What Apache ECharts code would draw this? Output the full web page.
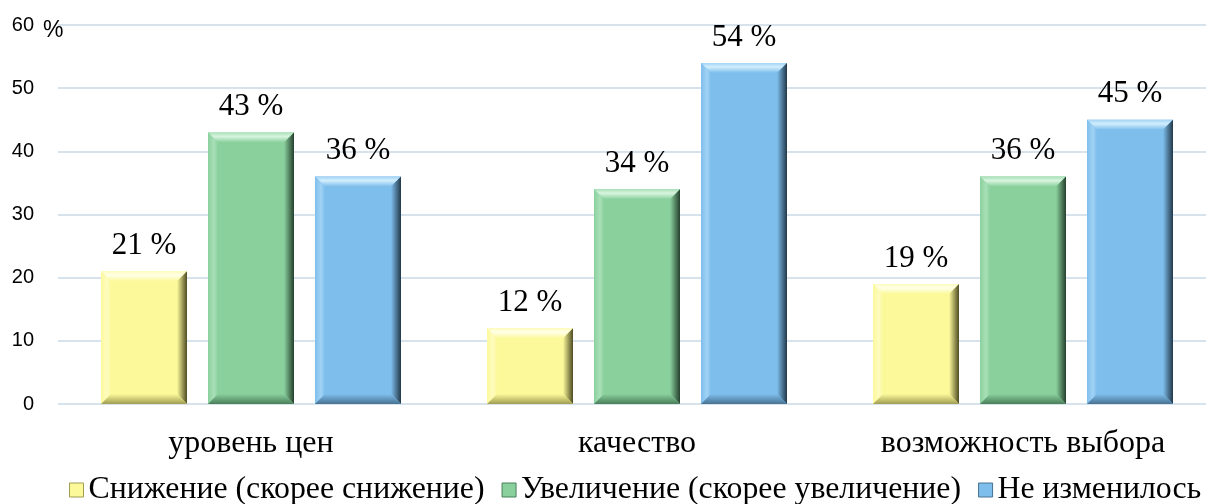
<!DOCTYPE html>
<html><head><meta charset="utf-8">
<script src="https://cdn.jsdelivr.net/npm/echarts@6/dist/echarts.min.js"></script>
<style>html,body{margin:0;padding:0;background:#fff}#c{width:1206px;height:504px}</style>
</head><body><div id="c"></div>
<script>
const categories = ['уровень цен', 'качество', 'возможность выбора'];
const seriesNames = ['Снижение (скорее снижение)', 'Увеличение (скорее увеличение)', 'Не изменилось'];
const decrease = [21, 12, 19];
const increase = [43, 34, 36];
const unchanged = [36, 54, 45];
const yTicks = [0, 10, 20, 30, 40, 50, 60];
const unitLabel = '%';

const palette = [
  {face: '#FCF99B', light: '#FFFFE8', side: '#FEFCC0', dark: '#4E4C22', bottom: '#A09D52'},
  {face: '#8AD09D', light: '#D8F5DF', side: '#A9E0B8', dark: '#25402D', bottom: '#4A7E5A'},
  {face: '#7EBEEC', light: '#D2EEFD', side: '#A2D3F5', dark: '#223849', bottom: '#487292'}
];
const allData = [decrease, increase, unchanged];
const serif = '"Liberation Serif", "Times New Roman", serif';
const sans = '"Liberation Sans", Arial, sans-serif';

function makeRender(si) {
  return function (params, api) {
    const xi = api.value(0), v = api.value(1);
    const band = api.size([1, 0])[0];
    const barW = band * 86 / 386, gap = band * 21 / 386;
    const c0 = api.coord([xi, 0]);
    const c1 = api.coord([xi, v]);
    const cx = c0[0] + (si - 1) * (barW + gap);
    const x0 = cx - barW / 2, x1 = cx + barW / 2, yb = c0[1], yt = c1[1];
    const b = 10;
    const p = palette[si];
    const G = echarts.graphic.LinearGradient;
    return {
      type: 'group',
      children: [
        {type: 'rect', shape: {x: x0, y: yt, width: barW, height: yb - yt}, style: {fill: p.face}},
        {type: 'polygon', shape: {points: [[x0, yt], [x1, yt], [x1 - b, yt + b], [x0 + b, yt + b]]},
          style: {fill: new G(0, 0, 0, 1, [{offset: 0, color: p.side}, {offset: 0.4, color: p.light}, {offset: 1, color: p.face}])}},
        {type: 'polygon', shape: {points: [[x0, yt], [x0 + b, yt + b], [x0 + b, yb - b], [x0, yb]]},
          style: {fill: new G(0, 0, 1, 0, [{offset: 0, color: p.face}, {offset: 0.6, color: p.side}, {offset: 1, color: p.face}])}},
        {type: 'polygon', shape: {points: [[x1, yt], [x1, yb], [x1 - b, yb - b], [x1 - b, yt + b]]},
          style: {fill: new G(0, 0, 1, 0, [{offset: 0, color: p.face}, {offset: 1, color: p.dark}])}},
        {type: 'polygon', shape: {points: [[x0, yb], [x1, yb], [x1 - b, yb - b], [x0 + b, yb - b]]},
          style: {fill: new G(0, 0, 0, 1, [{offset: 0, color: p.face}, {offset: 1, color: p.bottom}])}},
        {type: 'text', style: {x: cx, y: yt - 10, text: v + ' %', fill: '#000',
          font: '31px ' + serif, textAlign: 'center', textVerticalAlign: 'bottom'}}
      ]
    };
  };
}

const yMax = yTicks[yTicks.length - 1];
const chart = echarts.init(document.getElementById('c'));
chart.setOption({
  animation: false,
  grid: {left: 58, width: 1158, top: 25, bottom: 100, containLabel: false, outerBoundsMode: 'none'},
  legend: {
    data: seriesNames.map((n, i) => ({name: n, itemStyle: {color: palette[i].face, borderColor: palette[i].bottom, borderWidth: 1}})),
    left: 64, top: 469, width: 1142, itemWidth: 14, itemHeight: 14, itemGap: 17,
    icon: 'rect',
    textStyle: {fontFamily: serif, fontSize: 31.8, color: '#000'}
  },
  xAxis: {
    type: 'category', data: categories,
    axisLine: {show: false}, axisTick: {show: false},
    axisLabel: {fontFamily: serif, fontSize: 32, color: '#000', margin: 24}
  },
  yAxis: [{
    type: 'value', min: yTicks[0], max: yMax, interval: 10,
    axisLine: {show: false}, axisTick: {show: false},
    splitLine: {lineStyle: {color: '#D6E2EC', width: 2}},
    axisLabel: {fontFamily: sans, fontSize: 20, color: '#000', margin: 24}
  }, {
    type: 'value', position: 'left', min: yTicks[0], max: yMax, interval: 10,
    axisLine: {show: false}, axisTick: {show: false}, splitLine: {show: false},
    axisLabel: {fontFamily: sans, fontSize: 23, color: '#000', margin: 15, align: 'left', verticalAlign: 'top', lineHeight: 12,
      formatter: v => v === yMax ? unitLabel : ''}
  }],
  series: allData.map((d, i) => ({
    type: 'custom', name: seriesNames[i],
    itemStyle: {color: palette[i].face},
    renderItem: makeRender(i),
    encode: {x: 0, y: 1},
    data: d.map((v, k) => [k, v])
  }))
});
</script></body></html>
